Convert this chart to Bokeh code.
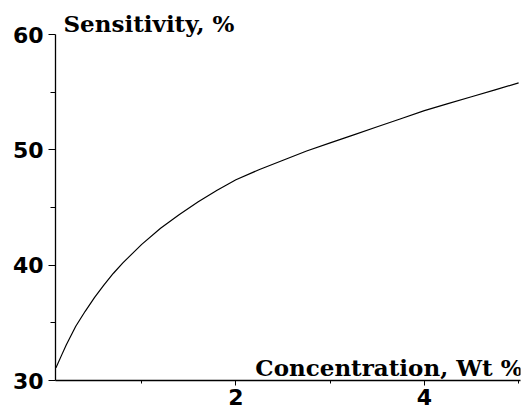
from bokeh.plotting import figure
from bokeh.models import FixedTicker, Label, Range1d
from bokeh.embed import file_html
from bokeh.resources import INLINE

# Data
concentration = [0.09, 0.15, 0.2, 0.3, 0.4, 0.5, 0.6, 0.7, 0.8, 0.9, 1.0, 1.2,
                 1.4, 1.6, 1.8, 2.0, 2.25, 2.5, 2.75, 3.0, 3.25, 3.5, 3.75,
                 4.0, 4.25, 4.5, 4.75, 5.0]
sensitivity = [31.1, 32.2, 33.1, 34.7, 36.0, 37.2, 38.3, 39.3, 40.2, 41.0, 41.8,
               43.2, 44.4, 45.5, 46.5, 47.4, 48.3, 49.1, 49.9, 50.6, 51.3, 52.0,
               52.7, 53.4, 54.0, 54.6, 55.2, 55.8]
x_major = [2, 4]
x_minor = [1, 3, 5]
y_major = [30, 40, 50, 60]
y_minor = [35, 45, 55]
y_title = "Sensitivity, %"
x_title = "Concentration, Wt %"

p = figure(width=527, height=414, output_backend="svg", toolbar_location=None,
           title=y_title,
           x_range=Range1d(0.085, 5.02), y_range=Range1d(30, 60),
           min_border_left=55, min_border_right=7, min_border_top=34,
           min_border_bottom=34)
p.outline_line_color = None
p.xgrid.grid_line_color = None
p.ygrid.grid_line_color = None
p.background_fill_color = "white"
p.border_fill_color = "white"

p.title.align = "left"
p.title.offset = 8
p.title.standoff = -4
p.title.text_font = "DejaVu Serif"
p.title.text_font_style = "bold"
p.title.text_font_size = "23px"
p.title.text_color = "black"

p.line(concentration, sensitivity, line_color="black", line_width=1.2)

for ax in (p.xaxis[0], p.yaxis[0]):
    ax.axis_line_color = "black"
    ax.axis_line_width = 1.3
    ax.major_tick_line_color = "black"
    ax.minor_tick_line_color = "black"
    ax.major_tick_in = 0
    ax.minor_tick_in = 0
    ax.major_label_text_font = "DejaVu Sans"
    ax.major_label_text_font_style = "bold"
    ax.major_label_text_font_size = "22px"
    ax.major_label_text_color = "black"

p.xaxis.ticker = FixedTicker(ticks=x_major, minor_ticks=x_minor)
p.yaxis.ticker = FixedTicker(ticks=y_major, minor_ticks=y_minor)
p.xaxis.major_tick_out = 5
p.xaxis.minor_tick_out = 3
p.xaxis.major_label_standoff = 3
p.yaxis.major_tick_out = 7
p.yaxis.minor_tick_out = 5
p.yaxis.major_label_standoff = 5

p.add_layout(Label(x=5.02, y=30, x_offset=2, y_offset=13, text=x_title,
                   text_font="DejaVu Serif", text_font_style="bold",
                   text_font_size="23px", text_baseline="alphabetic",
                   text_align="right", text_color="black"))

open("out.html", "w").write(file_html(p, INLINE))
